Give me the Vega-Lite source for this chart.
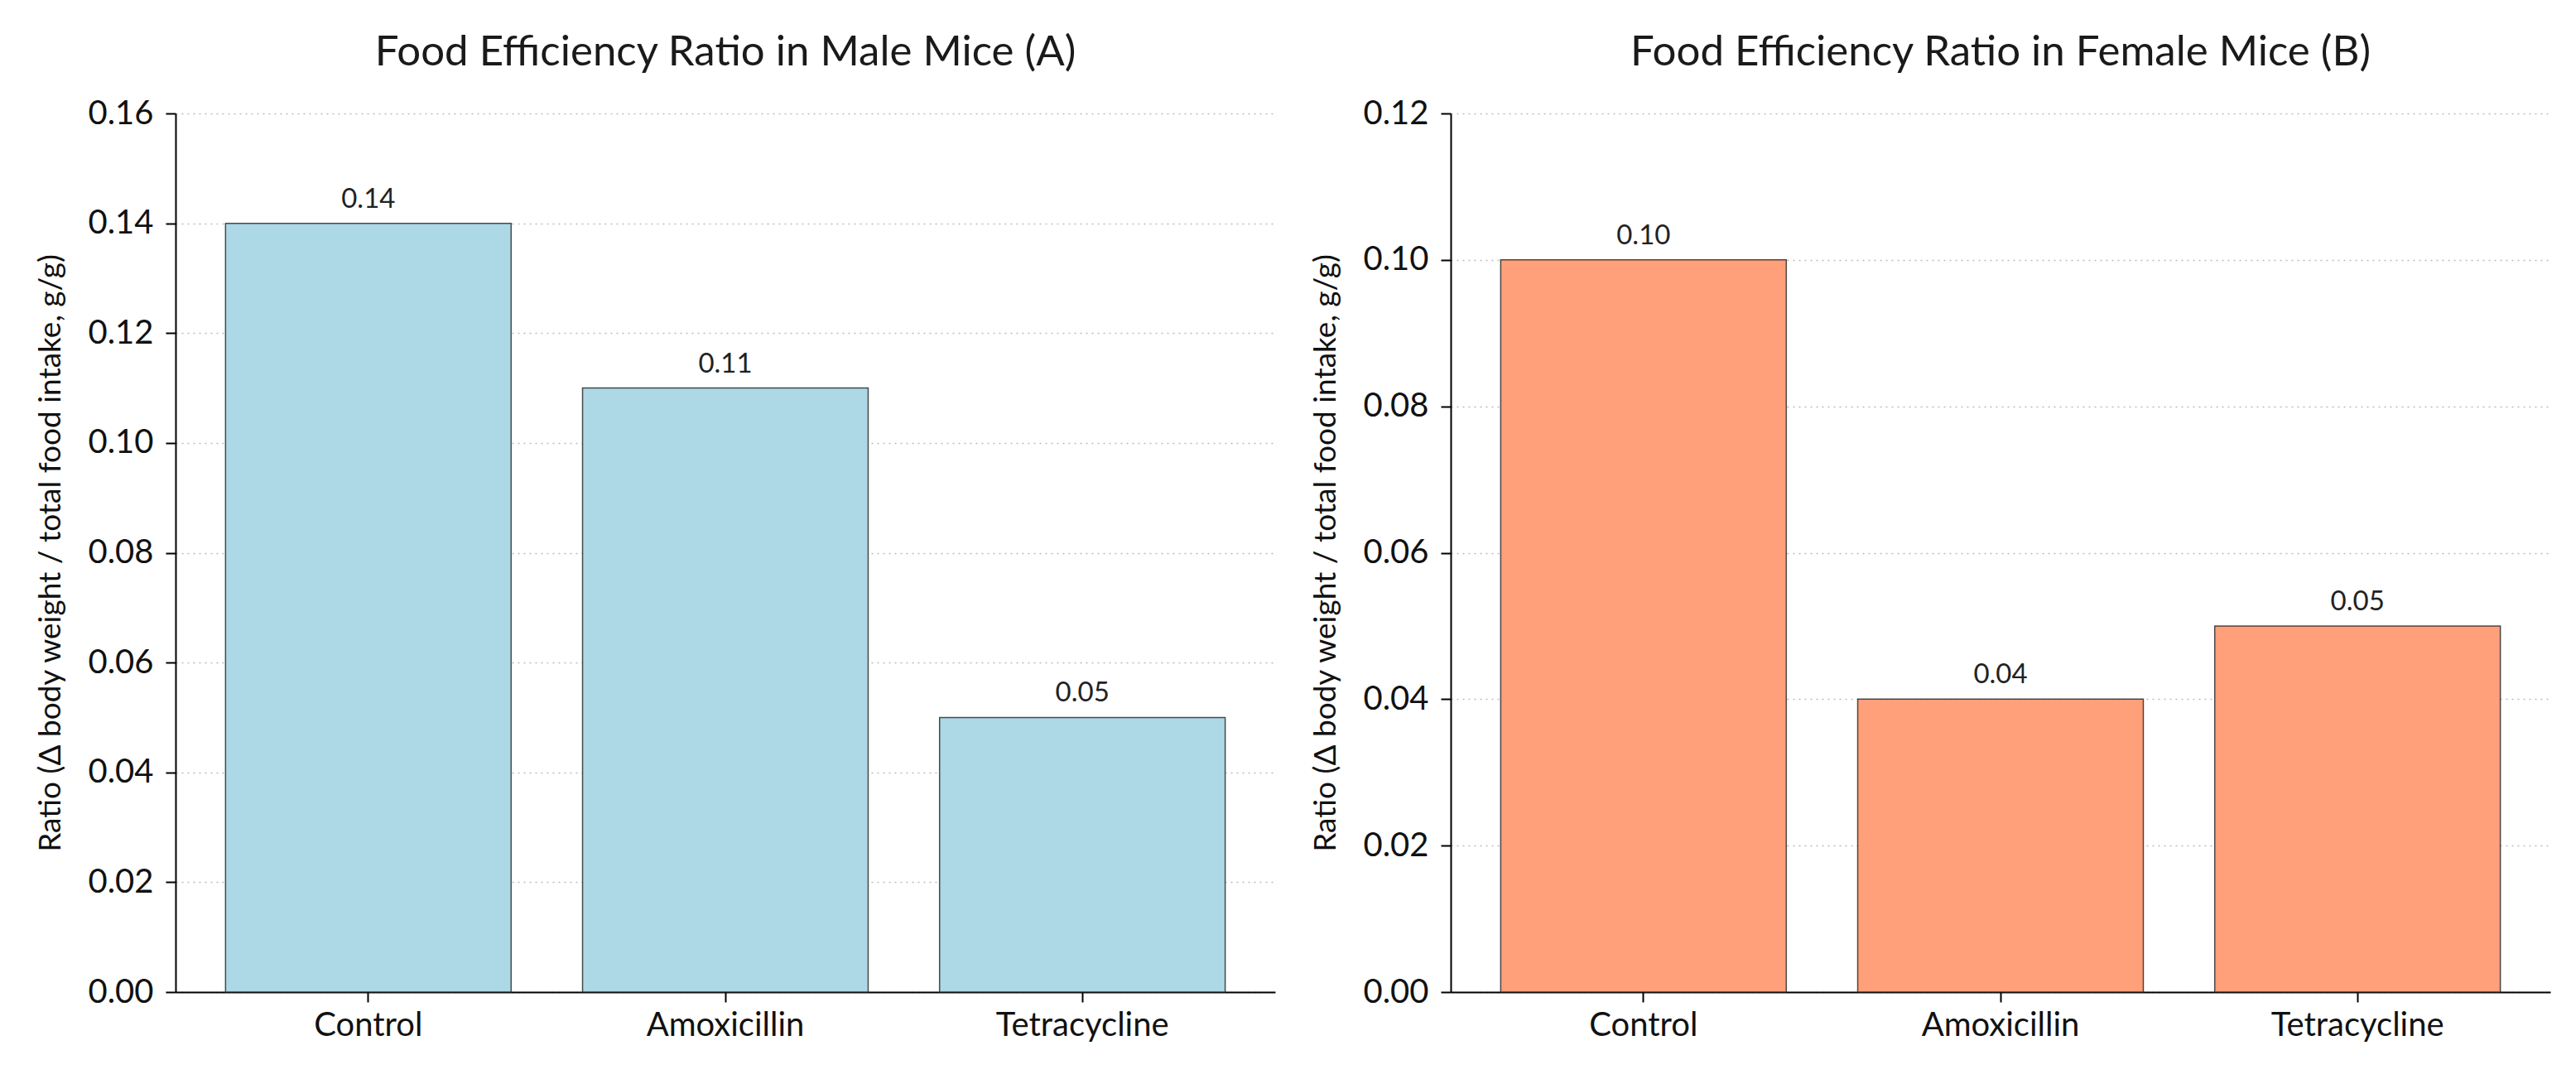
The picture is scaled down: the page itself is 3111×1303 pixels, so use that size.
{
  "$schema": "https://vega.github.io/schema/vega-lite/v6.json",
  "padding": {"left": 42, "top": 38, "right": 5, "bottom": 5},
  "background": "white",
  "spacing": 42,
  "config": {
    "font": "Lato",
    "view": {"stroke": null},
    "title": {"fontSize": 51, "fontWeight": "normal", "color": "#1a1a1a", "anchor": "middle", "baseline": "alphabetic", "offset": 27},
    "axis": {
      "domainColor": "#000000", "domainWidth": 2,
      "tickColor": "#000000", "tickWidth": 2, "tickSize": 12,
      "labelColor": "#111111", "labelFontSize": 40, "labelFont": "Lato", "labelLimit": 0,
      "titleColor": "#111111", "titleFontSize": 37, "titleFontWeight": "normal", "titleFont": "Lato"
    }
  },
  "datasets": {
    "mice": [
      {"sex": "Male", "treatment": "Control", "ratio": 0.14},
      {"sex": "Male", "treatment": "Amoxicillin", "ratio": 0.11},
      {"sex": "Male", "treatment": "Tetracycline", "ratio": 0.05},
      {"sex": "Female", "treatment": "Control", "ratio": 0.10},
      {"sex": "Female", "treatment": "Amoxicillin", "ratio": 0.04},
      {"sex": "Female", "treatment": "Tetracycline", "ratio": 0.05}
    ]
  },
  "hconcat": [
    {
      "title": "Food Efficiency Ratio in Male Mice (A)",
      "width": 1328,
      "height": 1061,
      "data": {"name": "mice"},
      "transform": [{"filter": "datum.sex === 'Male'"}],
      "encoding": {
        "x": {
          "field": "treatment", "type": "nominal",
          "sort": ["Control", "Amoxicillin", "Tetracycline"],
          "scale": {"paddingInner": 0.2, "paddingOuter": 0.14},
          "axis": {"title": null, "labelAngle": 0, "labelPadding": 8, "grid": false}
        },
        "y": {
          "field": "ratio", "type": "quantitative",
          "scale": {"domain": [0, 0.16], "nice": false},
          "axis": {
            "title": "Ratio (Δ body weight / total food intake, g/g)",
            "values": [0, 0.02, 0.04, 0.06, 0.08, 0.10, 0.12, 0.14, 0.16],
            "format": ".2f", "labelPadding": 15, "titlePadding": 25,
            "grid": true, "gridColor": "#bbbbbb", "gridWidth": 1.5, "gridDash": [2, 5]
          }
        }
      },
      "layer": [
        {"mark": {"type": "bar", "color": "#add8e6", "stroke": "#222222", "strokeWidth": 1.5, "strokeOpacity": 0.8}},
        {
          "mark": {"type": "text", "baseline": "alphabetic", "dy": -19, "fontSize": 33, "color": "#222222"},
          "encoding": {"text": {"field": "ratio", "type": "quantitative", "format": ".2f"}}
        }
      ]
    },
    {
      "title": "Food Efficiency Ratio in Female Mice (B)",
      "width": 1328,
      "height": 1061,
      "data": {"name": "mice"},
      "transform": [{"filter": "datum.sex === 'Female'"}],
      "encoding": {
        "x": {
          "field": "treatment", "type": "nominal",
          "sort": ["Control", "Amoxicillin", "Tetracycline"],
          "scale": {"paddingInner": 0.2, "paddingOuter": 0.14},
          "axis": {"title": null, "labelAngle": 0, "labelPadding": 8, "grid": false}
        },
        "y": {
          "field": "ratio", "type": "quantitative",
          "scale": {"domain": [0, 0.12], "nice": false},
          "axis": {
            "title": "Ratio (Δ body weight / total food intake, g/g)",
            "values": [0, 0.02, 0.04, 0.06, 0.08, 0.10, 0.12],
            "format": ".2f", "labelPadding": 15, "titlePadding": 25,
            "grid": true, "gridColor": "#bbbbbb", "gridWidth": 1.5, "gridDash": [2, 5]
          }
        }
      },
      "layer": [
        {"mark": {"type": "bar", "color": "#ffa07a", "stroke": "#222222", "strokeWidth": 1.5, "strokeOpacity": 0.8}},
        {
          "mark": {"type": "text", "baseline": "alphabetic", "dy": -19, "fontSize": 33, "color": "#222222"},
          "encoding": {"text": {"field": "ratio", "type": "quantitative", "format": ".2f"}}
        }
      ]
    }
  ]
}
